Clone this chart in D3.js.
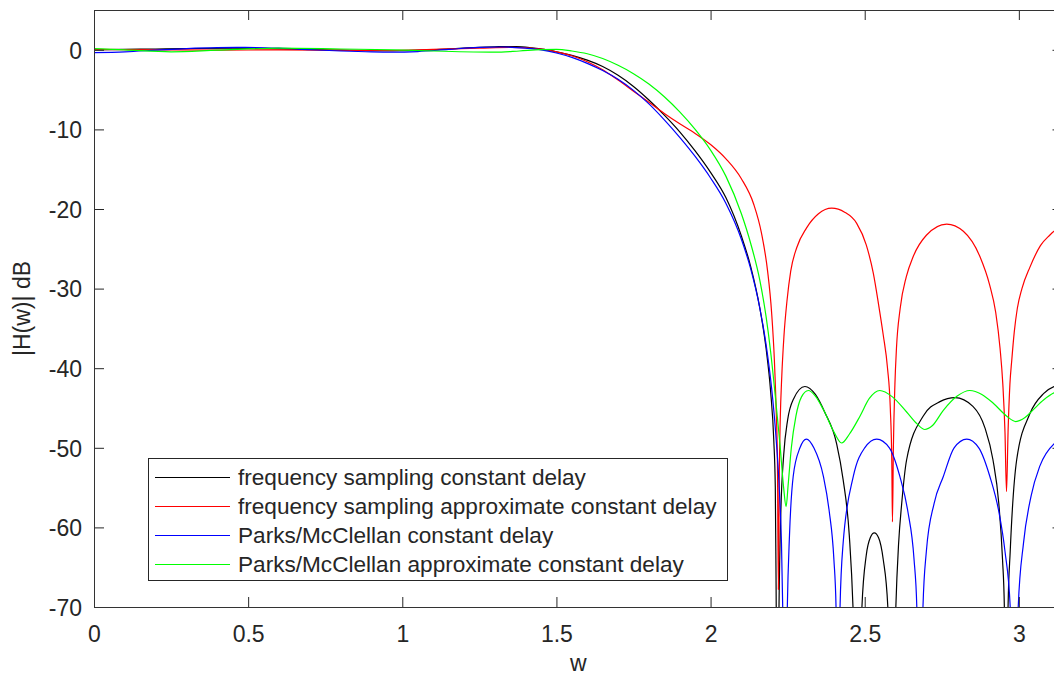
<!DOCTYPE html>
<html>
<head>
<meta charset="utf-8">
<script src="https://cdn.jsdelivr.net/npm/d3@7"></script>
<style>
  body { margin: 0; background: #fff; }
  text { font-family: "Liberation Sans", Arial, Helvetica, sans-serif; fill: #262626; }
</style>
</head>
<body>
<div id="chart"></div>
<script>
const width = 1054;
const height = 679;

// [w, dB] samples (nulls go below the -70 floor and get clipped)
const fsConst = [
  [0,0.0],[0.1,0.05],[0.2,0.1],[0.3,0.15],[0.45,0.2],[0.6,0.12],[0.75,0.0],[0.9,-0.1],[1.0,-0.1],
  [1.1,0.0],[1.2,0.2],[1.3,0.38],[1.37,0.4],[1.42,0.25],[1.46,0.05],[1.5,-0.25],[1.55,-0.7],
  [1.6,-1.3],[1.65,-2.1],[1.7,-3.2],[1.75,-4.6],[1.8,-6.3],[1.85,-8.2],[1.9,-10.3],[1.95,-12.7],
  [2.0,-15.4],[2.05,-18.6],[2.1,-23.4],[2.13,-27.2],[2.16,-32.5],[2.18,-37.5],[2.195,-43],
  [2.205,-49],[2.21,-55],[2.213,-70],[2.217,-95],[2.222,-70],[2.228,-58],[2.237,-51],[2.25,-46.5],
  [2.27,-43.8],[2.306,-42.3],[2.34,-43.3],[2.37,-45.5],[2.409,-49.5],[2.43,-54],[2.45,-61],
  [2.462,-70],[2.477,-95],[2.491,-70],[2.505,-63.5],[2.518,-61.3],[2.531,-60.7],[2.545,-61.3],
  [2.56,-64],[2.575,-70],[2.588,-95],[2.601,-70],[2.61,-62],[2.62,-57],[2.636,-51.5],[2.69,-46],
  [2.744,-44.2],[2.793,-43.7],[2.851,-44.8],[2.89,-47.5],[2.916,-51.5],[2.935,-57],[2.947,-64],
  [2.953,-70],[2.959,-95],[2.965,-70],[2.972,-63],[2.993,-51.5],[3.036,-45.7],[3.08,-43.2],
  [3.114,-42.3],[3.1416,-42.1]
];

const fsApprox = [
  [0,0.05],[0.2,0.0],[0.4,-0.05],[0.6,0.0],[0.8,-0.05],[0.95,-0.1],[1.1,0.05],[1.25,0.2],[1.35,0.3],
  [1.42,0.2],[1.46,0.05],[1.5,-0.25],[1.55,-0.75],[1.6,-1.5],[1.65,-2.5],[1.7,-3.8],[1.75,-5.2],
  [1.8,-6.6],[1.85,-8.0],[1.9,-9.3],[1.95,-10.5],[2.0,-11.9],[2.05,-13.7],[2.1,-16.2],[2.14,-19.4],
  [2.165,-23],[2.185,-27.8],[2.198,-33],[2.207,-39],[2.213,-45.5],[2.217,-52],[2.22,-67.8],
  [2.223,-53],[2.226,-46.5],[2.231,-41],[2.238,-36],[2.248,-31.5],[2.26,-27.8],[2.28,-24.8],
  [2.311,-22.4],[2.35,-20.6],[2.393,-19.9],[2.435,-20.4],[2.474,-21.8],[2.505,-24.5],[2.528,-28.1],
  [2.545,-32],[2.56,-35.8],[2.574,-40],[2.583,-45],[2.588,-52],[2.59,-59.3],[2.593,-50],
  [2.598,-42],[2.603,-37.5],[2.615,-32.5],[2.635,-28.5],[2.657,-26],[2.7,-23.3],[2.766,-21.9],
  [2.82,-22.8],[2.874,-26],[2.905,-29.5],[2.925,-33],[2.939,-37.5],[2.948,-42],[2.955,-48],
  [2.96,-55.5],[2.965,-48],[2.971,-42],[2.977,-39],[2.985,-35.5],[2.995,-32.5],[3.01,-30],
  [3.036,-27.3],[3.07,-24.6],[3.1,-23.3],[3.114,-22.8],[3.1416,-22.2]
];

const pmConst = [
  [0,-0.35],[0.1,-0.25],[0.2,-0.05],[0.3,0.15],[0.4,0.27],[0.49,0.3],[0.6,0.2],[0.7,0.02],
  [0.8,-0.15],[0.9,-0.27],[0.97,-0.3],[1.05,-0.22],[1.15,0.05],[1.25,0.3],[1.32,0.35],[1.4,0.2],
  [1.45,0.0],[1.5,-0.4],[1.55,-0.95],[1.6,-1.7],[1.65,-2.6],[1.7,-3.7],[1.75,-5.1],[1.8,-6.8],
  [1.85,-8.8],[1.9,-11.0],[1.95,-13.4],[2.0,-16.1],[2.05,-19.3],[2.1,-23.8],[2.13,-27.5],
  [2.16,-32.5],[2.18,-37],[2.198,-42.5],[2.212,-48.5],[2.224,-56],[2.23,-62],[2.234,-70],
  [2.241,-95],[2.249,-70],[2.256,-61],[2.268,-53.6],[2.29,-50],[2.311,-48.9],[2.335,-50],
  [2.366,-53.6],[2.385,-58],[2.4,-64],[2.407,-70],[2.413,-95],[2.42,-70],[2.43,-62],[2.463,-53.6],
  [2.5,-50],[2.539,-48.9],[2.58,-50],[2.614,-53.6],[2.64,-58],[2.66,-64],[2.669,-70],[2.679,-95],
  [2.689,-70],[2.7,-63],[2.725,-57],[2.755,-53.6],[2.79,-50],[2.831,-48.9],[2.87,-50],
  [2.906,-53.6],[2.935,-58],[2.955,-63],[2.972,-70],[2.986,-95],[2.998,-70],[3.015,-62],
  [3.04,-56],[3.068,-52.3],[3.114,-49.5],[3.1416,-48.9]
];

const pmApprox = [
  [0,0.15],[0.1,0.0],[0.25,-0.25],[0.4,-0.05],[0.6,0.2],[0.8,0.1],[0.97,0.0],[1.1,-0.15],
  [1.3,-0.3],[1.38,-0.15],[1.45,0.02],[1.5,0.05],[1.55,-0.15],[1.6,-0.5],[1.65,-1.1],[1.7,-1.95],
  [1.75,-3.0],[1.8,-4.3],[1.85,-5.9],[1.9,-7.8],[1.95,-10.0],[2.0,-12.6],[2.05,-15.9],[2.1,-20.6],
  [2.13,-24.3],[2.16,-29],[2.18,-33.5],[2.195,-38],[2.21,-43.5],[2.225,-49.5],[2.237,-55],
  [2.245,-57.4],[2.252,-54.5],[2.262,-50],[2.277,-46],[2.295,-43.6],[2.317,-42.8],[2.34,-43.5],
  [2.366,-45.2],[2.4,-48],[2.425,-49.4],[2.45,-48.3],[2.485,-46],[2.515,-43.8],[2.549,-42.8],
  [2.59,-43.6],[2.636,-45.5],[2.67,-47],[2.695,-47.7],[2.72,-47.2],[2.755,-45.3],[2.8,-43.5],
  [2.841,-42.8],[2.88,-43.3],[2.917,-44.4],[2.96,-46],[2.99,-46.7],[3.02,-46.2],[3.047,-45.2],
  [3.08,-44],[3.114,-43.1],[3.1416,-42.8]
];

const seriesNames = [
  "frequency sampling constant delay",
  "frequency sampling approximate constant delay",
  "Parks/McClellan constant delay",
  "Parks/McClellan approximate constant delay"
];
const seriesColors = ["#000000", "#ff0000", "#0000ff", "#00ff00"];
const xTicks = [0, 0.5, 1, 1.5, 2, 2.5, 3];
const yTicks = [0, -10, -20, -30, -40, -50, -60, -70];

const plot = { left: 94, right: 1062.5, top: 10, bottom: 607 };

const svg = d3.select("#chart")
    .append("svg")
    .attr("width", width)
    .attr("height", height);

const x = d3.scaleLinear().domain([0, Math.PI]).range([plot.left, plot.right]);
const y = d3.scaleLinear().domain([-70, 5]).range([plot.bottom, plot.top]);

// clip the curves to the axes box
svg.append("clipPath").attr("id", "clip")
  .append("rect")
    .attr("x", plot.left).attr("y", plot.top)
    .attr("width", plot.right - plot.left).attr("height", plot.bottom - plot.top);

const line = d3.line()
    .x(d => x(d[0]))
    .y(d => y(d[1]))
    .curve(d3.curveMonotoneX);

const allSeries = [fsConst, fsApprox, pmConst, pmApprox];

svg.append("g")
    .attr("clip-path", "url(#clip)")
  .selectAll("path")
  .data(allSeries)
  .enter()
  .append("path")
    .attr("d", line)
    .attr("fill", "none")
    .attr("stroke", (d, i) => seriesColors[i])
    .attr("stroke-width", 1.2);

// axes, ticks pointing inward on all four sides
const axisColor = "#262626";
const fontSize = 23;

const bottomAxis = svg.append("g")
    .attr("transform", `translate(0,${plot.bottom})`)
    .call(d3.axisBottom(x).tickValues(xTicks).tickFormat(d => String(d))
      .tickSizeInner(-10).tickSizeOuter(0).tickPadding(19));
const topAxis = svg.append("g")
    .attr("transform", `translate(0,${plot.top})`)
    .call(d3.axisTop(x).tickValues(xTicks).tickFormat("")
      .tickSizeInner(-10).tickSizeOuter(0));
const leftAxis = svg.append("g")
    .attr("transform", `translate(${plot.left},0)`)
    .call(d3.axisLeft(y).tickValues(yTicks).tickFormat(d => String(d))
      .tickSizeInner(-10).tickSizeOuter(0).tickPadding(12));
const rightAxis = svg.append("g")
    .attr("transform", `translate(${plot.right},0)`)
    .call(d3.axisRight(y).tickValues(yTicks).tickFormat("")
      .tickSizeInner(-10).tickSizeOuter(0));

[bottomAxis, topAxis, leftAxis, rightAxis].forEach(g => {
  g.select(".domain").remove();
  g.selectAll("line").attr("stroke", axisColor);
  g.selectAll("text")
    .attr("fill", axisColor)
    .style("font-size", fontSize + "px")
    .style("font-family", "'Liberation Sans', Arial, sans-serif");
});
leftAxis.selectAll("text").attr("dy", "0.36em");

svg.append("rect")
    .attr("x", plot.left + 0.5).attr("y", plot.top + 0.5)
    .attr("width", plot.right - plot.left - 1).attr("height", plot.bottom - plot.top)
    .attr("fill", "none")
    .attr("stroke", "#333")
    .attr("stroke-width", 1);

// axis labels
svg.append("text")
    .attr("x", (plot.left + plot.right) / 2)
    .attr("y", 671)
    .attr("text-anchor", "middle")
    .style("font-size", "23px")
    .text("w");

svg.append("text")
    .attr("transform", `translate(30,${(plot.top + plot.bottom) / 2}) rotate(-90)`)
    .attr("text-anchor", "middle")
    .style("font-size", "23px")
    .text("|H(w)| dB");

// legend
const legend = svg.append("g");
legend.append("rect")
    .attr("x", 148.5).attr("y", 458.5)
    .attr("width", 579).attr("height", 122)
    .attr("fill", "#fff")
    .attr("stroke", "#262626")
    .attr("stroke-width", 1);

const rows = legend.selectAll("g.row")
  .data(seriesNames)
  .enter()
  .append("g")
    .attr("class", "row")
    .attr("transform", (d, i) => `translate(0,${477 + i * 29})`);

rows.append("line")
    .attr("x1", 155).attr("x2", 230)
    .attr("y1", 0.5).attr("y2", 0.5)
    .attr("stroke", (d, i) => seriesColors[i])
    .attr("stroke-width", 1.2);

rows.append("text")
    .attr("x", 238)
    .attr("y", 7.5)
    .style("font-size", "22.6px")
    .text(d => d);
</script>
</body>
</html>
